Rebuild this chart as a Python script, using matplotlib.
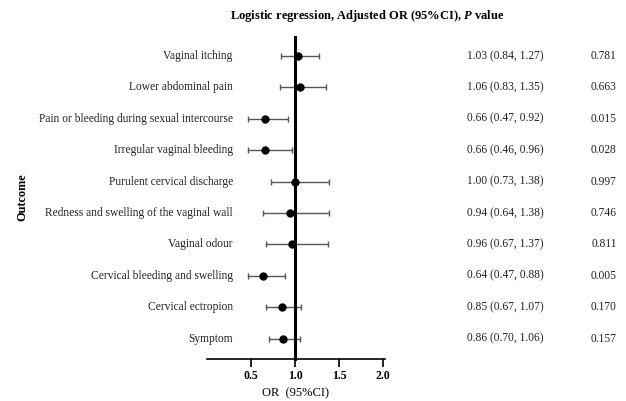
import matplotlib.pyplot as plt
import numpy as np

plt.rcParams['font.family'] = 'Liberation Serif'
plt.rcParams['mathtext.fontset'] = 'custom'
plt.rcParams['mathtext.bfit'] = 'Liberation Serif:italic:bold'
plt.rcParams['mathtext.rm'] = 'Liberation Serif'

outcomes = ['Vaginal itching', 'Lower abdominal pain',
            'Pain or bleeding during sexual intercourse',
            'Irregular vaginal bleeding', 'Purulent cervical discharge',
            'Redness and swelling of the vaginal wall', 'Vaginal odour',
            'Cervical bleeding and swelling', 'Cervical ectropion', 'Symptom']
odds = [1.03, 1.06, 0.66, 0.66, 1.00, 0.94, 0.96, 0.64, 0.85, 0.86]
lower = [0.84, 0.83, 0.47, 0.46, 0.73, 0.64, 0.67, 0.47, 0.67, 0.70]
upper = [1.27, 1.35, 0.92, 0.96, 1.38, 1.38, 1.37, 0.88, 1.07, 1.06]
pvals = ['0.781', '0.663', '0.015', '0.028', '0.997',
         '0.746', '0.811', '0.005', '0.170', '0.157']

odds = np.array(odds)
y = np.arange(len(outcomes))
err = [odds - np.array(lower), np.array(upper) - odds]

fig = plt.figure(figsize=(6.26, 4.01), dpi=100)
ax = fig.add_axes([207/626, 1 - 359/401, 178/626, 322/401])

ax.errorbar(odds, y, xerr=err, fmt='o', color='black', ecolor='#555555',
            elinewidth=1, capsize=2.5, capthick=1, markersize=5)

ax.set_xlim(0, 2.02)
ax.set_ylim(9.65, -0.6)
ax.spines['left'].set_position(('data', 1))
ax.spines['left'].set_linewidth(2.2)
ax.spines['bottom'].set_linewidth(1.2)
ax.spines['top'].set_visible(False)
ax.spines['right'].set_visible(False)
ax.set_yticks([])
ax.set_xticks([0.5, 1.0, 1.5, 2.0])
ax.set_xticklabels(['0.5', '1.0', '1.5', '2.0'], fontweight='bold', fontsize=8.5)
ax.tick_params(axis='x', length=6, width=1.2, pad=2)
ax.set_xlabel('OR  (95%CI)', fontsize=9, labelpad=4)

# row labels, estimates and p values
for i, name in enumerate(outcomes):
    ax.text(0.145, i, name, transform=ax.get_yaxis_transform(),
            ha='right', va='center', fontsize=8.3, color='#222222', clip_on=False)
    ax.text(1.676, i, f'{odds[i]:.2f} ({lower[i]:.2f}, {upper[i]:.2f})',
            transform=ax.get_yaxis_transform(), ha='center', va='center',
            fontsize=8.3, color='#222222', clip_on=False)
    ax.text(2.230, i, pvals[i], transform=ax.get_yaxis_transform(),
            ha='center', va='center', fontsize=8.3, color='#222222', clip_on=False)

fig.text(367/626, 1 - 16/401,
         r'Logistic regression, Adjusted OR (95%CI), $\mathbfit{P}$ value',
         ha='center', va='center', fontsize=9, fontweight='bold')
fig.text(22/626, 1 - 197/401, 'Outcome', rotation=90, ha='center', va='center',
         fontsize=8.8, fontweight='bold')

fig.savefig('out.png', dpi=100)
